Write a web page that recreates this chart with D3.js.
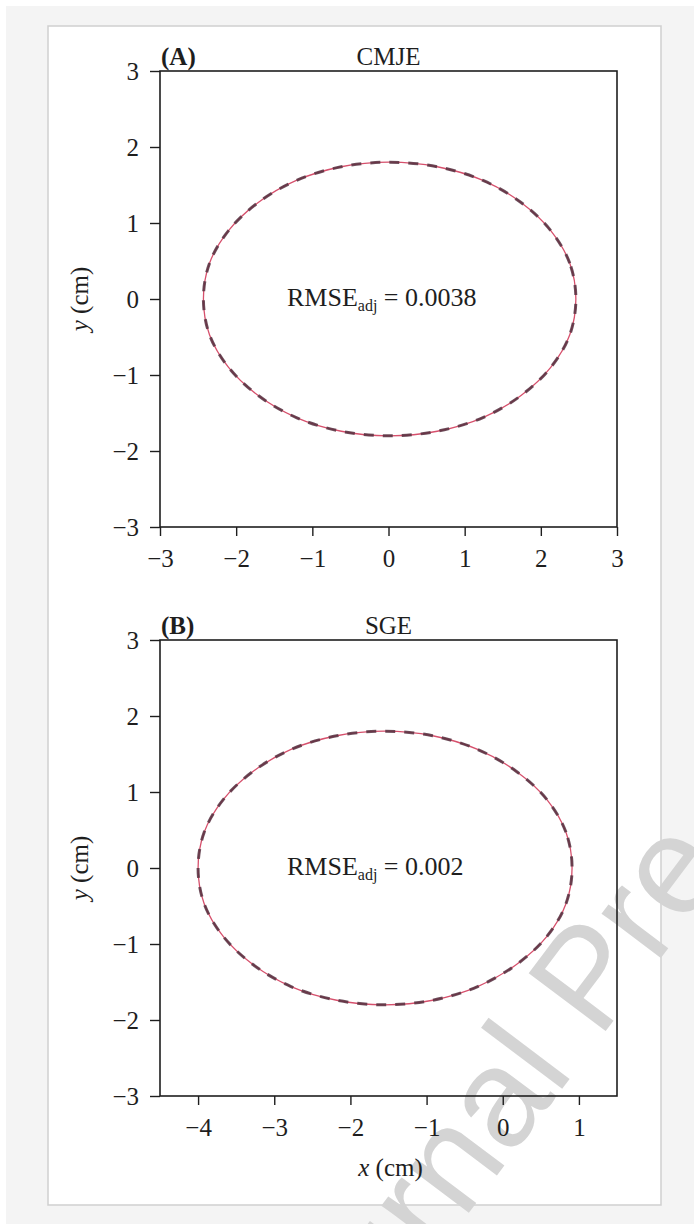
<!DOCTYPE html>
<html>
<head>
<meta charset="utf-8">
<script src="https://cdn.jsdelivr.net/npm/d3@7"></script>
<style>
  html, body { margin: 0; padding: 0; background: #fff; }
  svg { display: block; }
</style>
</head>
<body>
<svg id="chart" width="694" height="1224"></svg>
<script>
// ---- Data ----
const panelLetters = ["(A)", "(B)"];
const panelTitles = ["CMJE", "SGE"];
const rmseValues = ["0.0038", "0.002"];
const xDomainA = [-3, 3];
const xDomainB = [-4.5, 1.5];
const yDomain = [-3, 3];
const xTicksA = [-3, -2, -1, 0, 1, 2, 3];
const xTicksB = [-4, -3, -2, -1, 0, 1];
const yTicks = [-3, -2, -1, 0, 1, 2, 3];

// trajectory points (cm), panel A (CMJE)
const cmjeX = [2.46, 2.38, 2.13, 1.74, 1.24, 0.64, 0.01, -0.62, -1.21, -1.71, -2.10, -2.35, -2.43, -2.35, -2.10, -1.71, -1.21, -0.62, 0.01, 0.64, 1.24, 1.74, 2.13, 2.38];
const cmjeY = [0, 0.47, 0.90, 1.27, 1.56, 1.74, 1.80, 1.74, 1.56, 1.27, 0.90, 0.47, 0, -0.47, -0.90, -1.27, -1.56, -1.74, -1.80, -1.74, -1.56, -1.27, -0.90, -0.47];
// trajectory points (cm), panel B (SGE)
const sgeX = [0.91, 0.83, 0.58, 0.18, -0.33, -0.92, -1.55, -2.18, -2.78, -3.28, -3.67, -3.92, -4.00, -3.92, -3.67, -3.28, -2.78, -2.18, -1.55, -0.92, -0.33, 0.18, 0.58, 0.83];
const sgeY = [0, 0.47, 0.90, 1.27, 1.56, 1.74, 1.80, 1.74, 1.56, 1.27, 0.90, 0.47, 0, -0.47, -0.90, -1.27, -1.56, -1.74, -1.80, -1.74, -1.56, -1.27, -0.90, -0.47];

const watermark = "Journal Pre-proof";

// ---- Drawing ----
const svg = d3.select("#chart");
const serif = "'Liberation Serif', 'Times New Roman', serif";
const ink = "#1e1e1e";

// page background and card
svg.append("rect").attr("x", 6).attr("y", 6).attr("width", 688).attr("height", 1218).attr("fill", "#f4f4f4");
svg.append("rect").attr("x", 48).attr("y", 26).attr("width", 613).attr("height", 1179)
  .attr("fill", "#fff").attr("stroke", "#cfcfcf").attr("stroke-width", 1.5);

// watermark (under the chart)
svg.append("text")
  .attr("transform", "translate(299,1438) rotate(-53)")
  .attr("font-family", "'Liberation Sans', Arial, sans-serif")
  .attr("font-size", 140)
  .attr("fill", "#d4d4d4")
  .text(watermark);

const panels = [
  { top: 71, xDomain: xDomainA, xTicks: xTicksA, xs: cmjeX, ys: cmjeY, xlabel: false },
  { top: 640, xDomain: xDomainB, xTicks: xTicksB, xs: sgeX, ys: sgeY, xlabel: true }
];
const left = 160, width = 457, height = 456;
const fs = 25;

panels.forEach((p, i) => {
  const g = svg.append("g").attr("transform", `translate(${left},${p.top})`);
  const x = d3.scaleLinear().domain(p.xDomain).range([0, width]);
  const y = d3.scaleLinear().domain(yDomain).range([height, 0]);
  const fmt = d3.format("d");

  const pts = p.xs.map((v, k) => [v, p.ys[k]]);
  const line = d3.line().x(d => x(d[0])).y(d => y(d[1])).curve(d3.curveCatmullRomClosed.alpha(0.5));

  // model (solid red)
  g.append("path").attr("d", line(pts)).attr("fill", "none")
    .attr("stroke", "#d6506c").attr("stroke-width", 1.3);
  // measured (dark dashed)
  g.append("path").attr("d", line(pts)).attr("fill", "none")
    .attr("stroke", "#55303f").attr("stroke-opacity", 0.85)
    .attr("stroke-width", 3).attr("stroke-dasharray", "10,9");

  // axes
  const xAxis = g.append("g").attr("transform", `translate(0,${height})`)
    .call(d3.axisBottom(x).tickValues(p.xTicks).tickFormat(fmt).tickSize(9).tickPadding(13));
  const yAxis = g.append("g")
    .call(d3.axisLeft(y).tickValues(yTicks).tickFormat(fmt).tickSize(10).tickPadding(11));
  [xAxis, yAxis].forEach(a => {
    a.select(".domain").remove();
    a.selectAll("line").attr("stroke", ink).attr("stroke-width", 1.4);
    a.selectAll("text").attr("font-family", serif).attr("font-size", fs).attr("fill", ink);
  });

  // frame
  g.append("rect").attr("width", width).attr("height", height)
    .attr("fill", "none").attr("stroke", ink).attr("stroke-width", 1.6);

  // titles
  g.append("text").attr("x", 1).attr("y", -6)
    .attr("font-family", serif).attr("font-size", fs).attr("font-weight", "bold").attr("fill", ink)
    .text(panelLetters[i]);
  g.append("text").attr("x", width / 2).attr("y", -6)
    .attr("text-anchor", "middle")
    .attr("font-family", serif).attr("font-size", fs).attr("fill", ink)
    .text(panelTitles[i]);

  // RMSE annotation
  const t = g.append("text").attr("x", 127).attr("y", y(0) + 7)
    .attr("font-family", serif).attr("font-size", 26).attr("fill", ink);
  t.append("tspan").text("RMSE");
  t.append("tspan").attr("font-size", 16).attr("dy", 5).text("adj");
  t.append("tspan").attr("dy", -5).text(" = " + rmseValues[i]);

  // y label
  const yl = g.append("text")
    .attr("transform", `translate(-72,${height / 2}) rotate(-90)`)
    .attr("text-anchor", "middle")
    .attr("font-family", serif).attr("font-size", fs).attr("fill", ink);
  yl.append("tspan").attr("font-style", "italic").text("y");
  yl.append("tspan").text(" (cm)");

  if (p.xlabel) {
    const xl = g.append("text")
      .attr("x", width / 2 + 2).attr("y", height + 80)
      .attr("text-anchor", "middle")
      .attr("font-family", serif).attr("font-size", fs).attr("fill", ink);
    xl.append("tspan").attr("font-style", "italic").text("x");
    xl.append("tspan").text(" (cm)");
  }
});
</script>
</body>
</html>
